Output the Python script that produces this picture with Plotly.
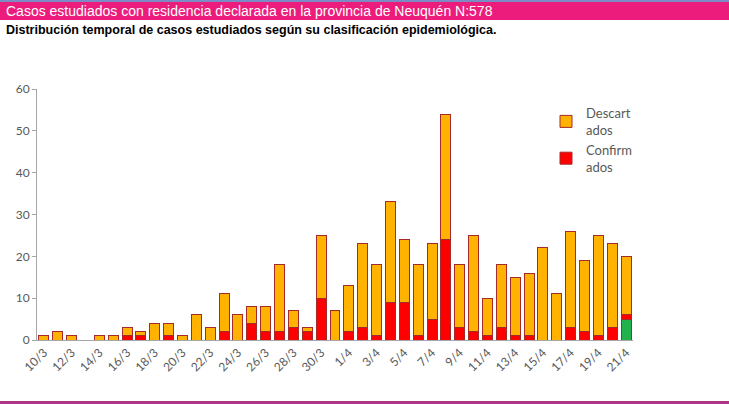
import plotly.graph_objects as go

fechas = [f"{d}/3" for d in range(10, 32)] + [f"{d}/4" for d in range(1, 22)]

totales = [1, 2, 1, 0, 1, 1, 3, 2, 4, 4, 1, 6, 3, 11, 6, 8, 8, 18, 7, 3, 25, 7,
           13, 23, 18, 33, 24, 18, 23, 54, 18, 25, 10, 18, 15, 16, 22, 11, 26, 19, 25, 23, 20]
confirmados = [0, 0, 0, 0, 0, 0, 1, 1, 0, 1, 0, 0, 0, 2, 0, 4, 2, 2, 3, 2, 10, 0,
               2, 3, 1, 9, 9, 1, 5, 24, 3, 2, 1, 3, 1, 1, 0, 0, 3, 2, 1, 3, 1]
en_estudio = [0] * 42 + [5]
descartados = [t - c - e for t, c, e in zip(totales, confirmados, en_estudio)]

etiquetas = fechas[::2]

W, H = 729, 404
L, R, T, B = 37, 96, 89, 64
pw, ph = W - L - R, H - T - B


def px_x(x):
    return (x - L) / pw


def px_y(y):
    return (H - B - y) / ph


borde = dict(color='#A52A2A', width=1)

fig = go.Figure()
fig.add_trace(go.Bar(x=fechas, y=en_estudio, name='En estudio', showlegend=False,
                     marker=dict(color='#22B14C', line=borde)))
fig.add_trace(go.Bar(x=fechas, y=confirmados, name='Confirm<br>ados',
                     marker=dict(color='#FF0000', line=borde)))
fig.add_trace(go.Bar(x=fechas, y=descartados, name='Descart<br>ados',
                     marker=dict(color='#FFB300', line=borde)))

fig.update_layout(
    width=W, height=H,
    margin=dict(l=L, r=R, t=T, b=B),
    barmode='stack',
    bargap=0.28,
    plot_bgcolor='white',
    paper_bgcolor='white',
    font=dict(family='Lato', color='#595959', size=12),
    showlegend=True,
    legend=dict(
        traceorder='reversed',
        x=px_x(546), y=px_y(98),
        xanchor='left', yanchor='top',
        font=dict(size=13, color='#595959'),
        itemwidth=30,
        tracegroupgap=0,
        bgcolor='rgba(0,0,0,0)'
    ),
    shapes=[
        dict(type='rect', xref='paper', yref='paper',
             x0=px_x(0), x1=px_x(W), y0=px_y(2), y1=px_y(0),
             fillcolor='#7B8CC4', line=dict(width=0), layer='below'),
        dict(type='rect', xref='paper', yref='paper',
             x0=px_x(0), x1=px_x(W), y0=px_y(20), y1=px_y(2),
             fillcolor='#EC1C7C', line=dict(width=0), layer='below'),
        dict(type='rect', xref='paper', yref='paper',
             x0=px_x(0), x1=px_x(W), y0=px_y(404), y1=px_y(401),
             fillcolor='#B0358A', line=dict(width=0), layer='below'),
    ],
    annotations=[
        dict(text='Casos estudiados con residencia declarada en la provincia de Neuquén N:578',
             xref='paper', yref='paper', x=px_x(4), y=px_y(11),
             xanchor='left', yanchor='middle', showarrow=False,
             font=dict(family='Liberation Sans', size=14, color='white')),
        dict(text='<b>Distribución temporal de casos estudiados según su clasificación epidemiológica.</b>',
             xref='paper', yref='paper', x=px_x(4), y=px_y(30),
             xanchor='left', yanchor='middle', showarrow=False,
             font=dict(family='Liberation Sans', size=12.5, color='black')),
    ],
)

fig.update_xaxes(
    type='category',
    tickmode='array', tickvals=etiquetas, ticktext=etiquetas,
    tickangle=-45,
    showline=True, linecolor='#A6A6A6', linewidth=1,
    ticks='', showgrid=False,
    tickfont=dict(size=12, color='#595959')
)
fig.update_yaxes(
    range=[0, 60], dtick=10,
    showline=True, linecolor='#A6A6A6', linewidth=1,
    ticks='outside', ticklen=4, tickcolor='#A6A6A6',
    showgrid=False, zeroline=False,
    tickfont=dict(size=12, color='#595959')
)

fig.write_html("out.html", config={'displayModeBar': False},
               post_script="document.body.style.margin='0';")
